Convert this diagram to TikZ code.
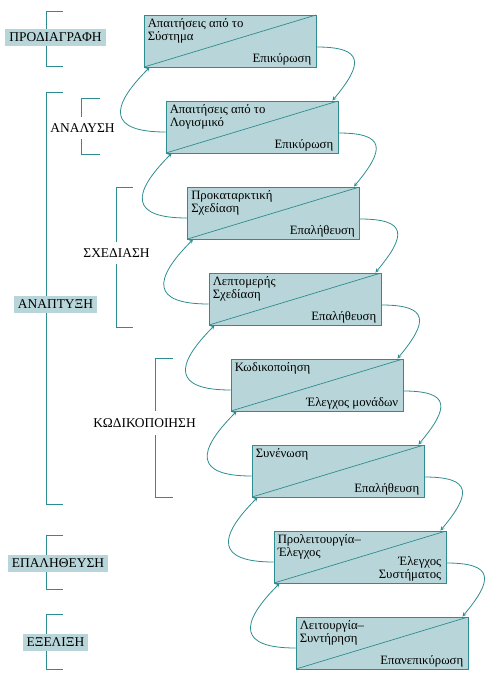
\documentclass[tikz,border=0pt]{standalone}
\usepackage{fontspec}
\setmainfont{Liberation Serif}
\usepackage{tikz}
\usetikzlibrary{arrows}

\definecolor{stagefill}{RGB}{184,214,217}
\definecolor{stageline}{RGB}{44,140,143}

\tikzset{
  stage/.style={draw=stageline, line width=0.9pt, fill=stagefill,
    minimum width=172bp, minimum height=52bp, inner sep=0pt,
    path picture={\draw[stageline, line width=0.7pt]
      (path picture bounding box.south west) -- (path picture bounding box.north east);}},
  toptext/.style={anchor=north west, align=left, inner xsep=4bp, inner ysep=4bp,
    font=\fontsize{12.8}{13}\selectfont},
  bottext/.style={anchor=south east, align=right, inner xsep=5bp, inner ysep=2bp,
    font=\fontsize{12.8}{13}\selectfont},
  flow/.style={->, >=stealth, stageline, line width=0.8pt},
  phase/.style={fill=stagefill, minimum height=17bp, inner xsep=4bp, inner ysep=0pt,
    font=\fontsize{13.5}{14}\selectfont},
  subphase/.style={fill=white, inner xsep=1bp, inner ysep=7bp,
    font=\fontsize{13.5}{14}\selectfont},
  bracket/.style={stageline, line width=0.9pt}
}

\begin{document}
\begin{tikzpicture}[x=1bp, y=1bp]
            \useasboundingbox (0,0) rectangle (494,-673);

            % brackets on the left
            \draw[bracket] (63,-11) -- (46,-11) -- (46,-66) -- (63,-66);
            \draw[bracket] (63,-92) -- (46,-92) -- (46,-504) -- (63,-504);
            \draw[bracket] (100,-98) -- (81,-98) -- (81,-154) -- (100,-154);
            \draw[bracket] (133,-187) -- (116,-187) -- (116,-327) -- (133,-327);
            \draw[bracket] (173,-358) -- (155,-358) -- (155,-497) -- (173,-497);
            \draw[bracket] (63,-535) -- (46,-535) -- (46,-589) -- (63,-589);
            \draw[bracket] (63,-614) -- (46,-614) -- (46,-669) -- (63,-669);

            \node[phase] (spec) at (55.5,-37.5) {ΠΡΟΔΙΑΓΡΑΦΗ};
            \node[phase] (dev) at (55.5,-304.5) {ΑΝΑΠΤΥΞΗ};
            \node[phase] (verif) at (58,-563.5) {ΕΠΑΛΗΘΕΥΣΗ};
            \node[phase] (evol) at (55.5,-642.5) {ΕΞΕΛΙΞΗ};
            \node[subphase] (anal) at (82.5,-128) {ΑΝΑΛΥΣΗ};
            \node[subphase] (design) at (116.5,-253) {ΣΧΕΔΙΑΣΗ};
            \node[subphase] (code) at (144.5,-423) {ΚΩΔΙΚΟΠΟΙΗΣΗ};

            % the stages
            \node[stage] (b1) at (230,-41) {};
            \node[stage] (b2) at (252,-127) {};
            \node[stage] (b3) at (273.5,-213) {};
            \node[stage] (b4) at (295,-299) {};
            \node[stage] (b5) at (317,-385) {};
            \node[stage] (b6) at (338,-471) {};
            \node[stage] (b7) at (360,-557) {};
            \node[stage] (b8) at (382,-643) {};

            \node[toptext] (b1a) at (b1.north west) {Απαιτήσεις από το\\Σύστημα};
            \node[bottext] (b1b) at (b1.south east) {Επικύρωση};
            \node[toptext] (b2a) at (b2.north west) {Απαιτήσεις από το\\Λογισμικό};
            \node[bottext] (b2b) at (b2.south east) {Επικύρωση};
            \node[toptext] (b3a) at (b3.north west) {Προκαταρκτική\\Σχεδίαση};
            \node[bottext] (b3b) at (b3.south east) {Επαλήθευση};
            \node[toptext] (b4a) at (b4.north west) {Λεπτομερής\\Σχεδίαση};
            \node[bottext] (b4b) at (b4.south east) {Επαλήθευση};
            \node[toptext] (b5a) at (b5.north west) {Κωδικοποίηση};
            \node[bottext] (b5b) at (b5.south east) {Έλεγχος μονάδων};
            \node[toptext] (b6a) at (b6.north west) {Συνένωση};
            \node[bottext] (b6b) at (b6.south east) {Επαλήθευση};
            \node[toptext] (b7a) at (b7.north west) {Προλειτουργία--\\Έλεγχος};
            \node[bottext] (b7b) at (b7.south east) {Έλεγχος\\Συστήματος};
            \node[toptext] (b8a) at (b8.north west) {Λειτουργία--\\Συντήρηση};
            \node[bottext] (b8b) at (b8.south east) {Επανεπικύρωση};

            % going down on the right
            \draw[flow] ([yshift=-6bp]b1.east) to[out=0, in=50, looseness=2.2] ([xshift=-6bp]b2.north east);
            \draw[flow] ([yshift=-6bp]b2.east) to[out=0, in=50, looseness=2.2] ([xshift=-6bp]b3.north east);
            \draw[flow] ([yshift=-6bp]b3.east) to[out=0, in=50, looseness=2.2] ([xshift=-6bp]b4.north east);
            \draw[flow] ([yshift=-6bp]b4.east) to[out=0, in=50, looseness=2.2] ([xshift=-6bp]b5.north east);
            \draw[flow] ([yshift=-6bp]b5.east) to[out=0, in=50, looseness=2.2] ([xshift=-6bp]b6.north east);
            \draw[flow] ([yshift=-6bp]b6.east) to[out=0, in=50, looseness=2.2] ([xshift=-6bp]b7.north east);
            \draw[flow] ([yshift=-6bp]b7.east) to[out=0, in=50, looseness=2.2] ([xshift=-6bp]b8.north east);

            % going back up on the left
            \draw[flow] ([yshift=-5bp]b2.west) to[out=180, in=225, looseness=2.2] ([xshift=6bp]b1.south west);
            \draw[flow] ([yshift=-5bp]b3.west) to[out=180, in=225, looseness=2.2] ([xshift=6bp]b2.south west);
            \draw[flow] ([yshift=-5bp]b4.west) to[out=180, in=225, looseness=2.2] ([xshift=6bp]b3.south west);
            \draw[flow] ([yshift=-5bp]b5.west) to[out=180, in=225, looseness=2.2] ([xshift=6bp]b4.south west);
            \draw[flow] ([yshift=-5bp]b6.west) to[out=180, in=225, looseness=2.2] ([xshift=6bp]b5.south west);
            \draw[flow] ([yshift=-5bp]b7.west) to[out=180, in=225, looseness=2.2] ([xshift=6bp]b6.south west);
            \draw[flow] ([yshift=-5bp]b8.west) to[out=180, in=225, looseness=2.2] ([xshift=6bp]b7.south west);
        \end{tikzpicture}
\end{document}
